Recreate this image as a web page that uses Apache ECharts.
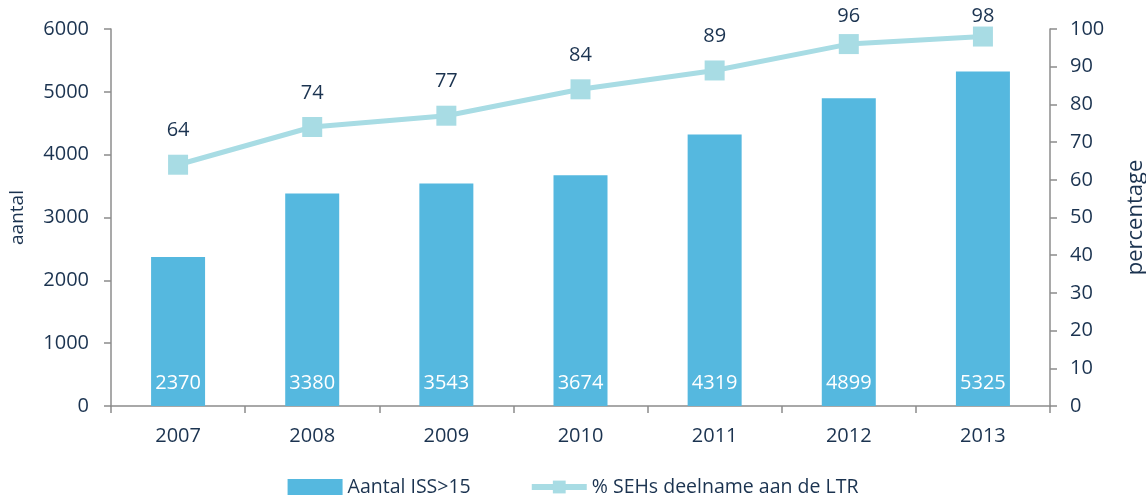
<!DOCTYPE html>
<html><head><meta charset="utf-8">
<script src="https://cdn.jsdelivr.net/npm/echarts@6/dist/echarts.min.js"></script>
<style>html,body{margin:0;padding:0;background:#fff}#c{width:1146px;height:502px}</style>
</head><body><div id="c"></div>
<script>
const years = ['2007','2008','2009','2010','2011','2012','2013'];
const aantal = [2370, 3380, 3543, 3674, 4319, 4899, 5325];
const percentage = [64, 74, 77, 84, 89, 96, 98];
const leftTicks = {min: 0, max: 6000, interval: 1000};
const rightTicks = {min: 0, max: 100, interval: 10};
const txt = '#1b3350';
const font = '"Open Sans", sans-serif';
const axisLine = {show: true, lineStyle: {color: '#8c8c8c', width: 1.5}};
const tick = {show: true, length: 7, lineStyle: {color: '#8c8c8c', width: 1.5}};
const chart = echarts.init(document.getElementById('c'));
chart.setOption({
  animation: false,
  textStyle: {fontFamily: font, color: txt},
  grid: {left: 111, right: 96, top: 29, bottom: 96, containLabel: false, outerBoundsMode: 'none'},
  legend: {
    bottom: 0, left: 'center', itemGap: 58,
    textStyle: {fontSize: 19.5, color: txt, fontFamily: font},
    data: [
      {name: 'Aantal ISS>15', icon: 'rect', itemWidth: 46, itemHeight: 15},
      {name: '% SEHs deelname aan de LTR', lineStyle: {width: 6, color: '#a8dce4'}}
    ],
    itemWidth: 55, itemHeight: 16
  },
  xAxis: {
    type: 'category', data: years,
    axisLine: axisLine,
    axisTick: tick,
    axisLabel: {fontSize: 20, color: txt, margin: 20, fontFamily: font}
  },
  yAxis: [
    {
      type: 'value', min: leftTicks.min, max: leftTicks.max, interval: leftTicks.interval,
      name: 'aantal', nameLocation: 'middle', nameRotate: 90, nameGap: 84,
      nameTextStyle: {fontSize: 19, color: txt, fontFamily: font},
      axisLine: axisLine,
      axisTick: tick,
      axisLabel: {fontSize: 20, color: txt, margin: 22, fontFamily: font, formatter: v => String(v)},
      splitLine: {show: false}
    },
    {
      type: 'value', min: rightTicks.min, max: rightTicks.max, interval: rightTicks.interval,
      name: 'percentage', nameLocation: 'middle', nameRotate: 90, nameGap: 75,
      nameTextStyle: {fontSize: 22, color: txt, fontFamily: font},
      axisLine: axisLine,
      axisTick: tick,
      axisLabel: {fontSize: 20, color: txt, margin: 20, fontFamily: font, formatter: v => String(v)},
      splitLine: {show: false}
    }
  ],
  series: [
    {
      name: 'Aantal ISS>15', type: 'bar', data: aantal, barWidth: 54, yAxisIndex: 0,
      itemStyle: {color: '#55b8df'},
      label: {show: true, position: 'insideBottom', distance: 13, color: '#fff', fontSize: 20, fontFamily: font}
    },
    {
      name: '% SEHs deelname aan de LTR', type: 'line', data: percentage, yAxisIndex: 1,
      symbol: 'rect', symbolSize: 20,
      lineStyle: {color: '#a8dce4', width: 5},
      itemStyle: {color: '#a8dce4'},
      label: {show: true, position: 'top', distance: 14, color: txt, fontSize: 20, fontFamily: font},
      labelLayout: function (p) {
        return p.labelRect.y < 6 ? {dy: 6 - p.labelRect.y} : {};
      }
    }
  ]
});
</script></body></html>
